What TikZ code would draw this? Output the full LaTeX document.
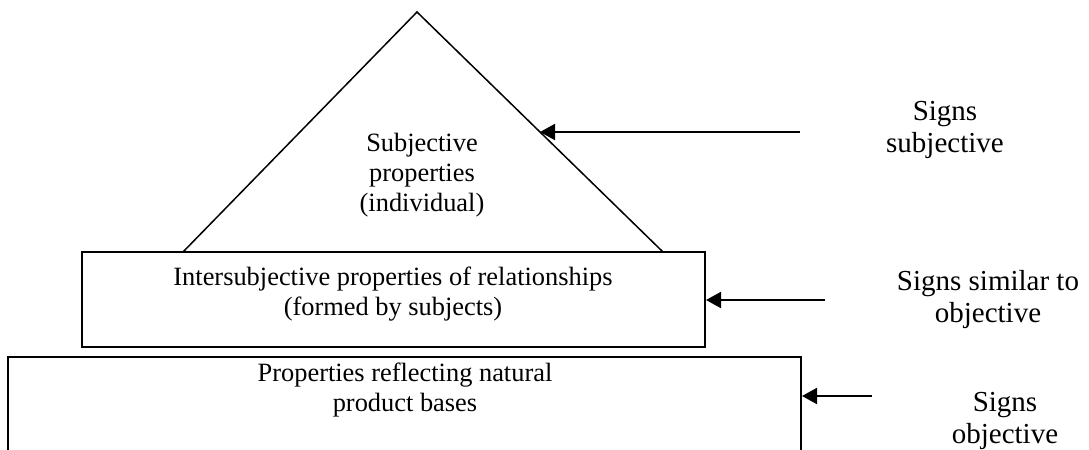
\documentclass[tikz,border=0pt]{standalone}
\usepackage{fontspec}
\setmainfont{Liberation Serif}
\usetikzlibrary{arrows.meta}
\begin{document}
\begin{tikzpicture}[x=0.5pt,y=-0.5pt,
    box/.style={draw,line width=1pt,inner sep=0pt},
    txt/.style={align=center,font=\fontsize{13.2}{15}\selectfont},
    signtxt/.style={align=center,font=\fontsize{14.5}{16}\selectfont},
    sign/.style={line width=1pt,-{Triangle[length=7.5pt,width=8pt]}}]
    \useasboundingbox (0,0) rectangle (1089,450);
    % pyramid top
    \coordinate (apex) at (417,12);
    \coordinate (tl) at (183,252);
    \coordinate (tr) at (663,252);
    \draw[line width=0.75pt] (tl)--(apex)--(tr);
    \path (apex)--(tr) coordinate[pos=0.5] (tA);
    \node[txt] (subj) at (422,175) {Subjective\\properties\\(individual)};
    % boxes
    \node[box,minimum width=311.5pt,minimum height=47.5pt] (mid) at (393.5,299.5) {};
    \node[txt] (inter) at (393,294) {Intersubjective properties of relationships\\(formed by subjects)};
    \node[box,minimum width=396.5pt,minimum height=50pt] (bot) at (404.5,407) {};
    \node[txt] (nat) at (405,390) {Properties reflecting natural\\product bases};
    % signs
    \node[signtxt] (lA) at (945,130) {Signs\\subjective};
    \node[signtxt] (lB) at (988,300) {Signs similar to\\objective};
    \node[signtxt] (lC) at (1005,421) {Signs\\objective};
    \coordinate (sgA) at (800,132);
    \coordinate (sgB) at (825,300);
    \coordinate (sgC) at (872,396);
    \coordinate (tB) at (sgB -| mid.east);
    \coordinate (tC) at (sgC -| bot.east);
    \foreach \s/\t in {sgA/tA,sgB/tB,sgC/tC}
    {\draw[sign] (\s)--(\t);}
\end{tikzpicture}
\end{document}
